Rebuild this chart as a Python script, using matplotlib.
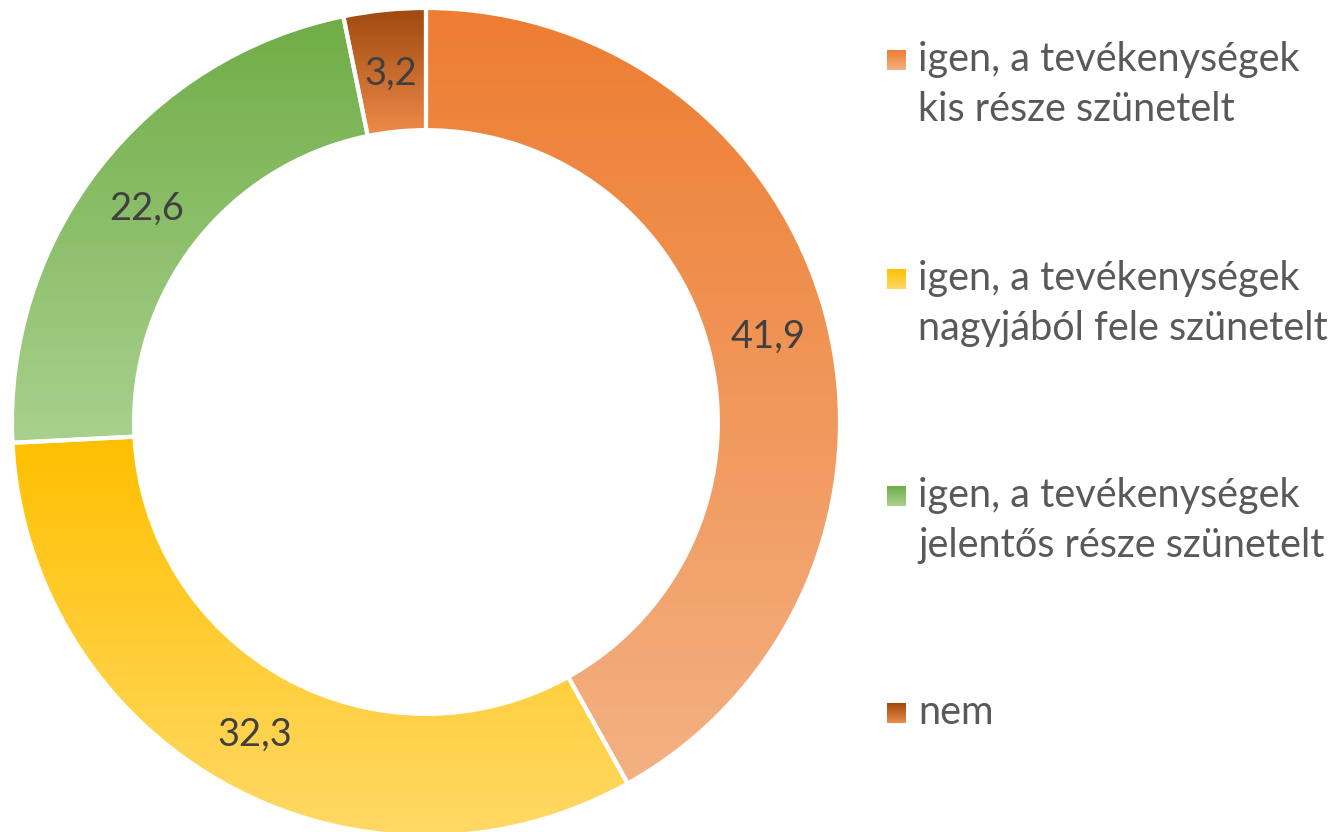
import matplotlib
matplotlib.use('Agg')
import matplotlib.pyplot as plt
import numpy as np
from matplotlib.colors import to_rgb

# ---- data ----
legend_lines = [
    ["igen, a tevékenységek", "kis része szünetelt"],
    ["igen, a tevékenységek", "nagyjából fele szünetelt"],
    ["igen, a tevékenységek", "jelentős része szünetelt"],
    ["nem"],
]
values = [41.9, 32.3, 22.6, 3.2]
top_colors = ['#ED7D31', '#FFC000', '#70AD47', '#9E480E']
bottom_colors = ['#F4B183', '#FFD966', '#A9D18E', '#EE8B4A']

FONT = 'Lato'
W, H = 1338, 832
fig = plt.figure(figsize=(W / 100, H / 100), dpi=100)
cx, cy, R = 426, 422, 414
ax = fig.add_axes([(cx - R) / W, (H - cy - R) / H, 2 * R / W, 2 * R / H])


def grad(c1, c2, n=256):
    a = np.array(to_rgb(c1))
    b = np.array(to_rgb(c2))
    t = np.linspace(0, 1, n)[:, None]
    return (a * (1 - t) + b * t)[:, None, :]


wedges, _, autotexts = ax.pie(
    values, startangle=90, counterclock=False, radius=1,
    wedgeprops=dict(width=0.295, edgecolor='white', linewidth=3),
    autopct=lambda p: f"{p:.1f}".replace('.', ','),
    pctdistance=0.855,
    textprops=dict(color='#404040', fontsize=28, family=FONT))

for w, c1, c2 in zip(wedges, top_colors, bottom_colors):
    ext = w.get_path().get_extents()
    im = ax.imshow(grad(c1, c2), extent=[ext.x0, ext.x1, ext.y0, ext.y1],
                   origin='upper', aspect='auto', interpolation='bilinear', zorder=1)
    im.set_clip_path(w)
    w.set_facecolor('none')
    w.set_zorder(2)
for t in autotexts:
    t.set_zorder(3)
    t.set_va('center_baseline')

ax.set_xlim(-1, 1)
ax.set_ylim(-1, 1)
ax.set_aspect('equal')
ax.axis('off')

# fit label font size to measured width of "41,9"
renderer = fig.canvas.get_renderer()
w0 = autotexts[0].get_window_extent(renderer).width
lab_fs = 28 * 75 / w0
for t in autotexts:
    t.set_fontsize(lab_fs)

# ---- legend (pixel-coordinate overlay) ----
lax = fig.add_axes([0, 0, 1, 1])
lax.set_xlim(0, W)
lax.set_ylim(H, 0)
lax.axis('off')

baselines = [71, 290, 507, 724]
line_gap = 50
probe = lax.text(0, 0, "igen, a tevékenységek", fontsize=28, family=FONT)
pw = probe.get_window_extent(renderer).width
probe.remove()
leg_fs = 28 * 382 / pw

for lines, b, c1, c2 in zip(legend_lines, baselines, top_colors, bottom_colors):
    lax.imshow(grad(c1, c2), extent=[887, 906, b - 1, b - 21], origin='upper',
               aspect='auto', interpolation='bilinear', zorder=2)
    for i, s in enumerate(lines):
        lax.text(918, b + i * line_gap, s, fontsize=leg_fs, family=FONT,
                 color='#595959', va='baseline', ha='left')
lax.set_xlim(0, W)
lax.set_ylim(H, 0)

fig.savefig('out.png', dpi=100)
